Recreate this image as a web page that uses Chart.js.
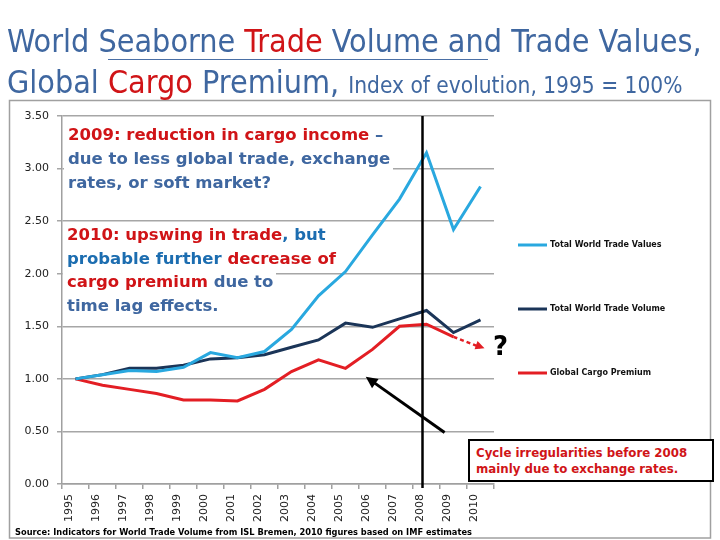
<!DOCTYPE html>
<html>
<head>
<meta charset="utf-8">
<script src="https://cdn.jsdelivr.net/npm/chart.js@4/dist/chart.umd.min.js"></script>
<style>
  body { margin: 0; background: #fff; }
  #wrap { position: relative; width: 720px; height: 540px; overflow: hidden; }
  canvas { position: absolute; left: 0; top: 0; }
  .txt { position: absolute; white-space: nowrap; font-family: "DejaVu Sans Condensed", "DejaVu Sans", sans-serif; }
  .red { color: #d01417; }
  .blue { color: #3f67a0; }
  .blue2 { color: #1c6db0; }
  .note { font-family: "DejaVu Sans", sans-serif; font-weight: bold; font-size: 16.5px; }
  .note .ln { background: #fff; width: fit-content; padding: 0 3px 0 4px; }
</style>
</head>
<body>
<div id="wrap">
  <canvas id="chart" width="720" height="540"></canvas>
  <!-- title -->
  <div class="txt blue" style="left:7px;top:25px;font-size:32px;line-height:32px;">World Seaborne <span class="red">Trade</span> Volume and Trade Values,</div>
  <div style="position:absolute;left:108px;top:59px;width:380px;height:1px;background:#4a6fa5;"></div>
  <div class="txt blue" style="left:7px;top:66px;font-size:32px;line-height:32px;">Global <span class="red">Cargo</span> Premium, <span style="font-size:22.5px;">Index of evolution, 1995 = 100%</span></div>
  <!-- notes inside the plot -->
  <div class="txt note" style="left:64px;top:123px;line-height:24px;">
    <div class="ln"><span class="red">2009: reduction in cargo income</span> <span class="blue">–</span></div>
    <div class="ln"><span class="blue">due to less global trade, exchange</span></div>
    <div class="ln"><span class="blue">rates, or soft market?</span></div>
  </div>
  <div class="txt note" style="left:63px;top:223px;line-height:23.7px;">
    <div class="ln"><span class="red">2010: upswing in trade</span><span class="blue2">, but</span></div>
    <div class="ln"><span class="blue2">probable further</span> <span class="red">decrease of</span></div>
    <div class="ln"><span class="red">cargo premium</span> <span class="blue">due to</span></div>
    <div class="ln"><span class="blue">time lag effects.</span></div>
  </div>
  <div class="txt" style="left:493px;top:331px;font-family:'DejaVu Sans';font-weight:bold;font-size:26px;line-height:30px;color:#000;">?</div>
  <div class="txt red" style="left:468px;top:439px;width:236px;height:35px;border:2px solid #000;background:#fff;padding:4px 0 0 6px;font-family:'DejaVu Sans';font-weight:bold;font-size:11.8px;line-height:16px;box-sizing:content-box;">Cycle irregularities before 2008<br>mainly due to exchange rates.</div>
  <div class="txt" style="left:15px;top:526px;font-weight:bold;font-size:9.2px;line-height:12px;color:#000;">Source: Indicators for World Trade Volume from ISL Bremen, 2010 figures based on IMF estimates</div>
</div>
<script>
// categories
const years = ["1995", "1996", "1997", "1998", "1999", "2000", "2001", "2002",
  "2003", "2004", "2005", "2006", "2007", "2008", "2009", "2010"];
// index values, 1995 = 1.00
const tradeValues = [1.00, 1.04, 1.08, 1.07, 1.11, 1.25, 1.20, 1.26, 1.47, 1.79, 2.02, 2.37, 2.71, 3.15, 2.42, 2.83];
const tradeVolume = [1.00, 1.04, 1.10, 1.10, 1.13, 1.19, 1.20, 1.23, 1.30, 1.37, 1.53, 1.49, 1.57, 1.65, 1.44, 1.56];
const cargoPremium = [1.00, 0.94, 0.90, 0.86, 0.80, 0.80, 0.79, 0.90, 1.07, 1.18, 1.10, 1.28, 1.50, 1.52, 1.40, null];
// guessed 2010 cargo premium (dashed arrow)
const premiumOutlook = [null, null, null, null, null, null, null, null, null, null, null, null, null, null, 1.40, 1.30];
// y axis ticks
const yTicks = [0, 0.5, 1, 1.5, 2, 2.5, 3, 3.5];
// black arrow pointing at the pre-2008 cycle (category index, value)
const cycleArrowFrom = [13.67, 0.49];
const cycleArrowTo = [10.75, 1.02];

const FONT = "'DejaVu Sans', sans-serif";

function arrowHead(ctx, x1, y1, x2, y2, size, color) {
  const a = Math.atan2(y2 - y1, x2 - x1);
  ctx.save();
  ctx.fillStyle = color;
  ctx.beginPath();
  ctx.moveTo(x2, y2);
  ctx.lineTo(x2 - size * Math.cos(a - 0.45), y2 - size * Math.sin(a - 0.45));
  ctx.lineTo(x2 - size * Math.cos(a + 0.45), y2 - size * Math.sin(a + 0.45));
  ctx.closePath();
  ctx.fill();
  ctx.restore();
}

//Frame, marker line, arrows and legend
const extras = {
  id: "extras",
  beforeDraw(chart) {
    const ctx = chart.ctx;
    ctx.save();
    ctx.strokeStyle = "#a0a0a0";
    ctx.lineWidth = 1.5;
    ctx.strokeRect(9.5, 100.5, 701, 437.5);
    ctx.restore();
  },
  afterDatasetsDraw(chart) {
    const ctx = chart.ctx;
    const x = chart.scales.x;
    const y = chart.scales.y;
    ctx.save();
    // 2008 line
    const lx = x.getPixelForValue(13) - 4;
    ctx.strokeStyle = "#000";
    ctx.lineWidth = 2.5;
    ctx.beginPath();
    ctx.moveTo(lx, chart.chartArea.top);
    ctx.lineTo(lx, chart.chartArea.bottom + 4);
    ctx.stroke();
    // cycle arrow
    const ax1 = x.getPixelForValue(cycleArrowFrom[0]);
    const ay1 = y.getPixelForValue(cycleArrowFrom[1]);
    const ax2 = x.getPixelForValue(cycleArrowTo[0]);
    const ay2 = y.getPixelForValue(cycleArrowTo[1]);
    const back = Math.atan2(ay1 - ay2, ax1 - ax2);
    ctx.lineWidth = 3;
    ctx.beginPath();
    ctx.moveTo(ax1, ay1);
    ctx.lineTo(ax2 + 8 * Math.cos(back), ay2 + 8 * Math.sin(back));
    ctx.stroke();
    arrowHead(ctx, ax1, ay1, ax2, ay2, 13, "#000");
    // red outlook arrow head
    const px1 = x.getPixelForValue(14), py1 = y.getPixelForValue(premiumOutlook[14]);
    const px2 = x.getPixelForValue(15), py2 = y.getPixelForValue(premiumOutlook[15]);
    arrowHead(ctx, px1, py1, px2 + 4, py2 + 1, 10, "#e31e24");
    // legend
    const legendY = [245, 309, 373];
    ctx.font = "bold 8px " + FONT;
    ctx.textBaseline = "middle";
    chart.data.datasets.slice(0, 3).forEach((ds, i) => {
      ctx.strokeStyle = ds.borderColor;
      ctx.lineWidth = 3;
      ctx.beginPath();
      ctx.moveTo(518, legendY[i]);
      ctx.lineTo(547, legendY[i]);
      ctx.stroke();
      ctx.fillStyle = "#111";
      ctx.fillText(ds.label, 550, legendY[i]);
    });
    ctx.restore();
  },
};

new Chart(document.getElementById("chart"), {
  type: "line",
  data: {
    labels: years,
    datasets: [
      { label: "Total World Trade Values", data: tradeValues, borderColor: "#29a8df", borderWidth: 3 },
      { label: "Total World Trade Volume", data: tradeVolume, borderColor: "#1b3558", borderWidth: 3 },
      { label: "Global Cargo Premium", data: cargoPremium, borderColor: "#e31e24", borderWidth: 3 },
      { label: "outlook", data: premiumOutlook, borderColor: "#e31e24", borderWidth: 2.5, borderDash: [4, 3] },
    ],
  },
  options: {
    responsive: false,
    animation: false,
    layout: { padding: { left: 0, right: 226, top: 116, bottom: 0 } },
    elements: { point: { radius: 0 }, line: { tension: 0 } },
    plugins: { legend: { display: false }, tooltip: { enabled: false } },
    scales: {
      x: {
        offset: true,
        grid: { offset: true, drawOnChartArea: false, tickLength: 5, color: "#a0a0a0", lineWidth: 1.5 },
        border: { color: "#a0a0a0", width: 1.5 },
        ticks: {
          autoSkip: false, minRotation: 90, maxRotation: 90, padding: 5, labelOffset: -6,
          color: "#222", font: { family: FONT, size: 11 },
        },
        afterFit(scale) { scale.height = 56; },
      },
      y: {
        min: 0,
        max: 3.5,
        afterBuildTicks(scale) { scale.ticks = yTicks.map((v) => ({ value: v })); },
        grid: { color: "#a6a6a6", lineWidth: 1.5, tickLength: 5 },
        border: { color: "#a0a0a0", width: 1.5 },
        ticks: { padding: 8, color: "#222", font: { family: FONT, size: 11 }, callback: (v) => v.toFixed(2) },
        afterFit(scale) { scale.width = 62; },
      },
    },
  },
  plugins: [extras],
});
</script>
</body>
</html>
